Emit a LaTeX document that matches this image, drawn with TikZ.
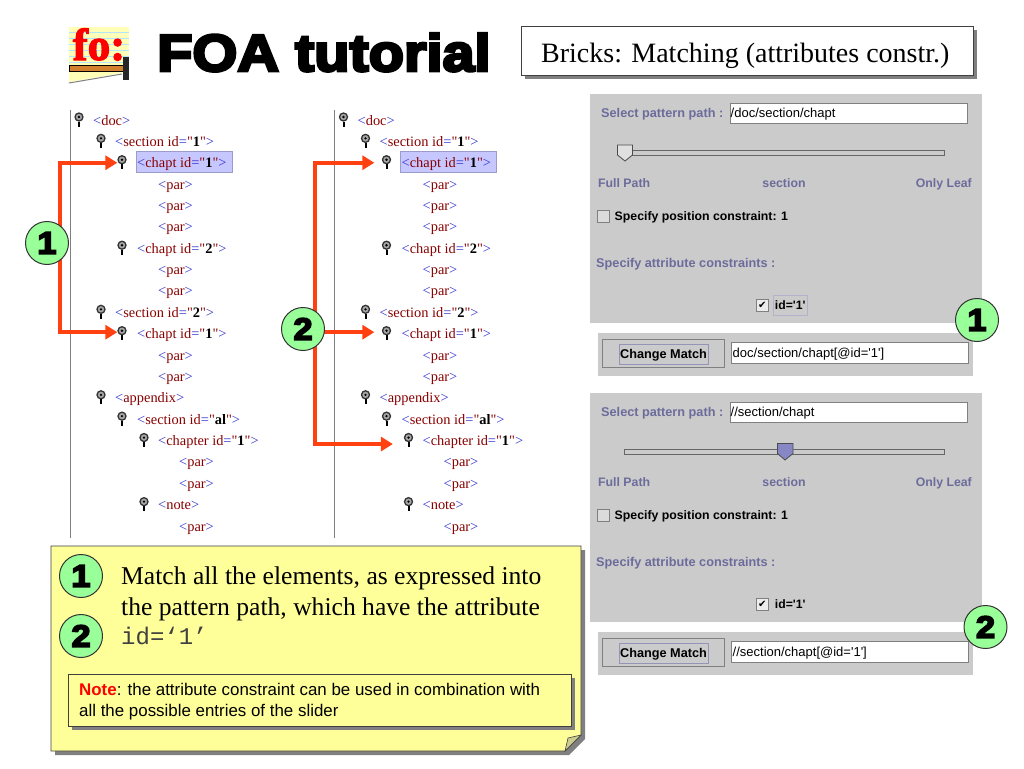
\documentclass[tikz,border=0pt]{standalone}
\usepackage{xcolor}
\usepackage{fontspec}
\setmainfont{Liberation Serif}
\setmonofont{Liberation Mono}
\newfontfamily\treefont{Liberation Serif}
\newfontfamily\logofont{Liberation Serif}[BoldFeatures={FakeBold=2.5}]
\newfontfamily\uifont{Liberation Sans}
\newfontfamily\tickfont{DejaVu Sans}
\newfontfamily\heavyfont{Liberation Sans}[BoldFeatures={FakeBold=5.5, FakeStretch=1.11}]
\usetikzlibrary{arrows.meta, shadows}

\definecolor{tagblue}{HTML}{3333CC}
\definecolor{tagred}{HTML}{880000}
\definecolor{hotred}{HTML}{FF4010}
\definecolor{panelgray}{HTML}{CBCBCB}
\definecolor{labelblue}{HTML}{6C6C9C}
\definecolor{notepaper}{HTML}{FFFF99}

\newcommand{\xmltag}[1]{\textcolor{tagblue}{<}\textcolor{tagred}{#1}\textcolor{tagblue}{>}}
\newcommand{\xmlattr}[2]{\textcolor{tagblue}{<}\textcolor{tagred}{#1 id}\textcolor{tagblue}{=}\textcolor{tagred}{"}\textbf{#2}\textcolor{tagred}{"}\textcolor{tagblue}{>}}

\begin{document}
\begin{tikzpicture}[
    x=1pt, y=-1pt,
    treeline/.style={draw=gray, line width=1pt},
    treeicon/.style={circle, draw=black!80, fill=gray!70, line width=1.3pt, inner sep=0pt, minimum size=8pt},
    treetext/.style={anchor=base west, inner sep=0pt, font=\treefont\fontsize{14.4}{14}\selectfont},
    hilite/.style={rectangle, draw=blue!30!gray!60, fill=blue!22, anchor=north west, inner sep=0pt, minimum width=96pt, minimum height=21pt},
    hotarrow/.style={-{Triangle[length=12pt, width=14pt]}, draw=hotred, line width=4pt},
    badge/.style={circle, draw=black!80, fill=green!40, line width=1pt, inner sep=0pt, minimum size=43pt, font=\heavyfont\bfseries\fontsize{31}{31}\selectfont},
    panelbox/.style={rectangle, fill=panelgray, anchor=north west, inner sep=0pt},
    fieldbox/.style={rectangle, draw=gray, fill=white, line width=0.8pt, anchor=north west, inner sep=0pt},
    uilabel/.style={anchor=base west, inner sep=0pt, font=\uifont\bfseries\fontsize{12.3}{12}\selectfont},
    widelabel/.style={uilabel, font=\uifont\bfseries\fontsize{12.7}{12}\selectfont},
    fieldtext/.style={anchor=base west, inner sep=0pt, font=\uifont\fontsize{13}{13}\selectfont},
    checkbox/.style={rectangle, draw=gray, fill=panelgray!70!white, anchor=north west, inner sep=0pt, minimum size=12pt},
    tickbox/.style={checkbox, fill=white!85!gray, font=\tickfont\fontsize{10}{10}\selectfont},
    shadowbox/.style={rectangle, draw=black!75, line width=0.8pt, anchor=north west, inner sep=0pt, drop shadow={shadow xshift=4pt, shadow yshift=-4pt, fill=gray, opacity=1}},
    notetext/.style={anchor=base west, inner sep=0pt, font=\uifont\fontsize{16.9}{17}\selectfont},
    bigtext/.style={anchor=base west, inner sep=0pt, font=\fontsize{25.6}{26}\selectfont}
]
\useasboundingbox (0,0) rectangle (1024,768);

% Logo
\fill[notepaper!70!white] (69,27) rectangle (129,72);
\foreach \ruley in {32,38,...,68} {
    \draw[cyan!30] (69,\ruley) -- (129,\ruley);
}
\fill[notepaper!70!white] (69,71) -- (122,71) -- (122,73) -- (69,82) -- cycle;
\draw[gray, line width=1pt] (69,83) -- (122,74);
\node[anchor=base, inner sep=0pt, text=red, font=\logofont\bfseries\fontsize{45}{45}\selectfont] (logotext) at (99,60) {fo:};
\node[rectangle, draw=black, fill=brown!70!orange, anchor=north west, inner sep=0pt, minimum width=55pt, minimum height=6pt] (logobar) at (69,65) {};
\node[rectangle, fill=black!85, anchor=north west, inner sep=0pt, minimum width=6pt, minimum height=23pt] (logopost) at (123,57) {};

% Title and topic
\node[anchor=base west, inner sep=0pt, font=\heavyfont\bfseries\fontsize{52}{52}\selectfont] (title) at (157,71) {FOA tutorial};
\node[shadowbox, fill=white, minimum width=452pt, minimum height=49pt] (topic) at (521,26) {};
\node[anchor=base west, inner sep=0pt, font=\fontsize{28}{28}\selectfont] (topictext) at (541,63) {Bricks: Matching (attributes constr.)};

% Trees
\draw[treeline] (70.5,110) -- (70.5,538);
\draw[treeline] (334.5,110) -- (334.5,538);
\foreach \tree/\dx in {l/0, r/264.5} {
\begin{scope}[shift={(\dx,0)}]
    \node[hilite] (\tree hl) at (135.5,151) {};
    \foreach \rowno/\iconx/\textx/\rowtext in {
        1/79/93/{\xmltag{doc}},
        2/101/115/{\xmlattr{section}{1}},
        3/122/137/{\xmlattr{chapt}{1}},
        4/0/158/{\xmltag{par}},
        5/0/158/{\xmltag{par}},
        6/0/158/{\xmltag{par}},
        7/122/137/{\xmlattr{chapt}{2}},
        8/0/158/{\xmltag{par}},
        9/0/158/{\xmltag{par}},
        10/101/115/{\xmlattr{section}{2}},
        11/122/137/{\xmlattr{chapt}{1}},
        12/0/158/{\xmltag{par}},
        13/0/158/{\xmltag{par}},
        14/101/115/{\xmltag{appendix}},
        15/122/137/{\xmlattr{section}{al}},
        16/144/158/{\xmlattr{chapter}{1}},
        17/0/179/{\xmltag{par}},
        18/0/179/{\xmltag{par}},
        19/144/158/{\xmltag{note}},
        20/0/179/{\xmltag{par}}} {
        \pgfmathsetmacro{\rowy}{120+21.37*(\rowno-1)}
        \node[treetext] (\tree t\rowno) at (\textx,\rowy+5) {\rowtext};
        \ifnum\iconx>0
            \node[treeicon] (\tree i\rowno) at (\iconx,\rowy-3) {};
            \fill[black] (\tree i\rowno.center) circle (1.3pt);
            \draw[black, line width=2pt] (\tree i\rowno.south) -- ++(0,5);
        \fi
    }
\end{scope}
}

% Arrows to the matched elements
\coordinate (elbowa) at (59.5,243);
\coordinate (elbowb) at (315,329);
\draw[hotarrow] (elbowa) |- ([yshift=-3pt]li3.west);
\draw[hotarrow] (elbowa) |- ([yshift=-1.5pt]li11.west);
\draw[hotarrow, shorten >=7.5pt] (elbowb) |- ([yshift=-3pt]ri3.west);
\draw[hotarrow, shorten >=7.5pt] (elbowb) |- ([yshift=-1.5pt]ri11.west);
\draw[hotarrow, shorten >=11pt] (elbowb) |- ([yshift=-6.5pt]ri16.west);
\node[badge] (treeone) at (47,243) {1};
\node[badge] (treetwo) at (303,329) {2};

% Pattern panels
\foreach \p/\dy/\pathtext/\matchtext in {a/0/{/doc/section/chapt}/{doc/section/chapt[@id='1']}, b/299/{//section/chapt}/{//section/chapt[@id='1']}} {
\begin{scope}[shift={(0,\dy)}]
    \node[panelbox, minimum width=392pt, minimum height=229pt] (panel\p) at (590,94) {};
    \node[widelabel, text=labelblue] (select\p) at (601,117) {Select pattern path :};
    \node[fieldbox, minimum width=237.5pt, minimum height=19.5pt] (field\p) at (729.5,103) {};
    \node[fieldtext] (pathtext\p) at (730.5,117) {\pathtext};
    \node[uilabel, text=labelblue] (full\p) at (598,187) {Full Path};
    \node[uilabel, text=labelblue, anchor=base] (mid\p) at (784,187) {section};
    \node[uilabel, text=labelblue, anchor=base east] (leaf\p) at (972,187) {Only Leaf};
    \node[checkbox] (poscheck\p) at (597,210) {};
    \node[uilabel] (pos\p) at (614.5,220) {Specify position constraint: 1};
    \node[widelabel, text=labelblue] (attr\p) at (596,267) {Specify attribute constraints :};
    \node[panelbox, minimum width=375pt, minimum height=43pt] (lower\p) at (598,333) {};
    \node[rectangle, draw=gray, anchor=north west, inner sep=0pt, minimum width=122pt, minimum height=28pt] (button\p) at (602,339) {};
    \node[rectangle, draw=blue!20!gray!70, anchor=north west, inner sep=0pt, minimum width=89pt, minimum height=20pt] (focus\p) at (619,343.5) {};
    \node[widelabel, anchor=base] (change\p) at (663.5,358) {Change Match};
    \node[fieldbox, minimum width=237pt, minimum height=21pt] (matchfield\p) at (731,342) {};
    \node[fieldtext] (matchtext\p) at (732.5,357) {\matchtext};
\end{scope}
}

% Sliders
\node[rectangle, draw=black!60, fill=panelgray, anchor=north west, inner sep=0pt, minimum width=326pt, minimum height=5pt] (tracka) at (618,149.5) {};
\node[rectangle, draw=black!60, fill=panelgray, anchor=north west, inner sep=0pt, minimum width=320pt, minimum height=5pt] (trackb) at (624,448.5) {};
\draw[black!70, fill=panelgray!60!white, line width=0.8pt] (617.5,145) -- (632.5,145) -- (632.5,155) -- (625,161) -- (617.5,155) -- cycle;
\draw[black!70, fill=blue!35!gray!70, line width=0.8pt] (777.5,443.5) -- (793,443.5) -- (793,453.5) -- (785,460) -- (777.5,453.5) -- cycle;

% Attribute check boxes
\node[tickbox] (idchecka) at (756,299) {✔};
\node[tickbox] (idcheckb) at (756,598) {✔};
\node[rectangle, draw=blue!20!gray!50, anchor=north west, inner sep=0pt, minimum width=34pt, minimum height=20pt, font=\uifont\bfseries\fontsize{12.2}{12}\selectfont] (ida) at (773,295) {id='1'};
\node[anchor=north west, inner sep=0pt, minimum width=34pt, minimum height=20pt, font=\uifont\bfseries\fontsize{12.2}{12}\selectfont] (idb) at (773,594) {id='1'};
\node[badge] (panelone) at (977,320) {1};
\node[badge] (paneltwo) at (985.5,627) {2};

% Explanation
\draw[draw=black!75, fill=notepaper, line width=0.8pt, drop shadow={shadow xshift=4pt, shadow yshift=-4pt, fill=gray, opacity=1}] (51,546) -- (581,546) -- (581,735) -- (565,751) -- (51,751) -- cycle;
\draw[draw=black!75, fill=notepaper!60!gray, line width=0.6pt] (565,751) -- (568,738) -- (581,735) -- cycle;
\node[badge] (noteone) at (81,576) {1};
\node[badge] (notetwo) at (81,636) {2};
\node[bigtext] (lineone) at (121,584) {Match all the elements, as expressed into};
\node[bigtext] (linetwo) at (121,615) {the pattern path, which have the attribute};
\node[bigtext, text=black!75, font=\ttfamily\fontsize{24}{24}\selectfont] (linethree) at (121,644) {id=‘1’};
\node[shadowbox, fill=notepaper, minimum width=503pt, minimum height=52pt] (notebox) at (68,674) {};
\node[notetext] (notelineone) at (79,695) {\textcolor{red}{\textbf{Note}}: the attribute constraint can be used in combination with};
\node[notetext] (notelinetwo) at (79,716) {all the possible entries of the slider};

\end{tikzpicture}
\end{document}
